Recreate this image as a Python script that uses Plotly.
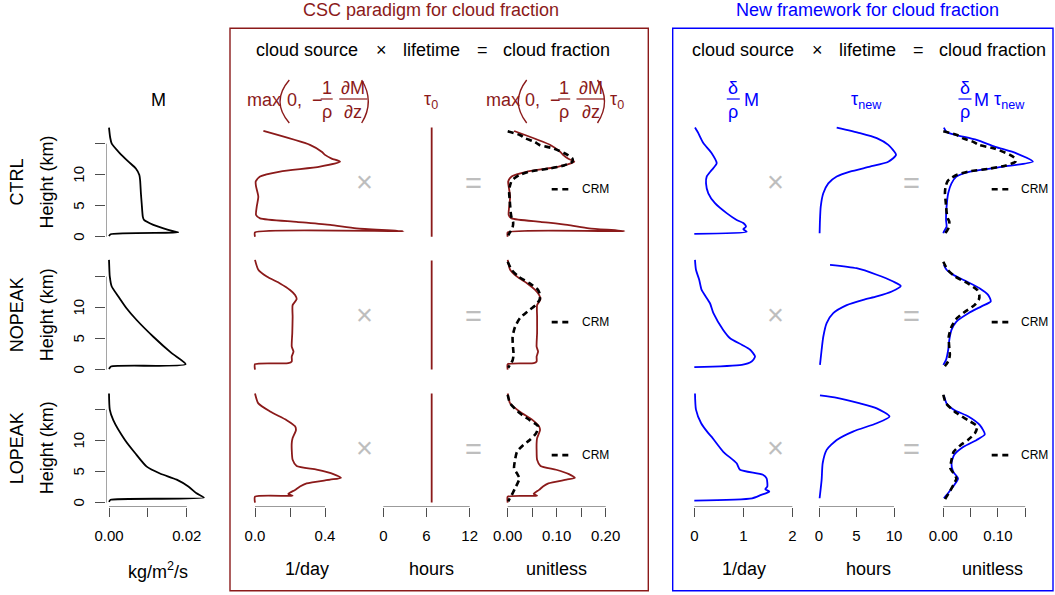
import plotly.graph_objects as go

# ---------------- DATA ----------------
rows = ["CTRL", "NOPEAK", "LOPEAK"]

# Column 1: mass flux M (kg/m2/s)
z_M_ctrl = [17.6, 16.0, 15.0, 13.45, 12.1, 11.0, 9.95, 9.1, 7.0, 5.4, 3.2, 2.7, 1.9, 1.35, 0.9, 0.7, 0.4, 0.1]
M_ctrl = [0.0, 0.0003, 0.0007, 0.0028, 0.005, 0.0069, 0.0078, 0.008, 0.0082, 0.0084, 0.0087, 0.009, 0.0114, 0.014, 0.0165, 0.0178, 0.0004, 0.0]
z_M_nopeak = [17.7, 16.0, 15.0, 13.4, 11.8, 9.9, 8.0, 5.3, 2.65, 0.87, 0.5, 0.1]
M_nopeak = [0.0, 0.0001, 0.0002, 0.0007, 0.0024, 0.0045, 0.0071, 0.0114, 0.0161, 0.0197, 0.0005, 0.0]
z_M_lopeak = [17.6, 15.0, 13.3, 10.1, 8.0, 5.8, 4.7, 3.7, 2.6, 1.5, 0.8, 0.45, 0.1]
M_lopeak = [0.0, 0.0002, 0.0011, 0.0041, 0.0067, 0.0097, 0.0131, 0.0174, 0.0204, 0.0225, 0.0244, 0.0004, 0.0]

# CSC paradigm: cloud source (1/day) and cloud fraction (unitless)
z_csc_ctrl = [17.05, 14.8, 13.7, 13.2, 12.6, 12.1, 11.3, 10.5, 9.7, 8.9, 8.1, 6.45, 4.85, 3.5, 2.95, 2.4, 1.9, 1.35, 0.9, 0.7, 0.0]
src_csc_ctrl = [0.048, 0.314, 0.381, 0.4, 0.438, 0.486, 0.371, 0.143, 0.029, 0.004, 0.006, 0.019, 0.01, 0.006, 0.029, 0.238, 0.43, 0.58, 0.848, 0.0, 0.0]
cf_csc_ctrl = [0.013, 0.087, 0.107, 0.113, 0.123, 0.136, 0.104, 0.040, 0.008, 0.001, 0.002, 0.005, 0.003, 0.002, 0.008, 0.067, 0.122, 0.166, 0.238, 0.0, 0.0]
z_csc_nopeak = [17.7, 16.1, 15.0, 13.9, 12.85, 12.05, 11.35, 10.4, 8.5, 5.9, 3.7, 2.9, 2.1, 1.3, 1.03, 0.87, 0.0]
src_csc_nopeak = [0.0, 0.019, 0.067, 0.143, 0.2, 0.229, 0.238, 0.215, 0.215, 0.213, 0.21, 0.22, 0.21, 0.21, 0.19, 0.0, 0.0]
cf_csc_nopeak = [0.0, 0.005, 0.019, 0.040, 0.056, 0.064, 0.067, 0.060, 0.060, 0.060, 0.059, 0.062, 0.059, 0.059, 0.053, 0.0, 0.0]
z_csc_lopeak = [17.6, 16.0, 14.7, 13.3, 12.3, 11.7, 10.4, 9.6, 8.5, 6.9, 5.9, 5.3, 4.6, 4.0, 3.7, 3.1, 2.6, 2.05, 1.4, 1.1, 0.95, 0.0]
src_csc_lopeak = [0.0, 0.019, 0.086, 0.181, 0.229, 0.234, 0.215, 0.21, 0.21, 0.215, 0.238, 0.352, 0.448, 0.491, 0.429, 0.295, 0.257, 0.229, 0.19, 0.215, 0.0, 0.0]
cf_csc_lopeak = [0.0, 0.005, 0.024, 0.051, 0.064, 0.066, 0.060, 0.059, 0.059, 0.060, 0.067, 0.099, 0.125, 0.137, 0.120, 0.083, 0.072, 0.064, 0.053, 0.060, 0.0, 0.0]

tau0_hours = 6.72
z_tau0 = [0.0, 17.6]

# New framework: cloud source (1/day), lifetime (hours), cloud fraction
z_new_src_ctrl = [17.6, 16.7, 15.1, 13.45, 11.85, 10.75, 9.7, 8.6, 7.0, 5.4, 3.8, 2.7, 2.2, 1.6, 1.2, 0.8, 0.45]
src_new_ctrl = [0.014, 0.082, 0.184, 0.355, 0.457, 0.355, 0.253, 0.239, 0.286, 0.422, 0.66, 0.865, 1.0, 1.055, 1.0, 1.07, 0.0]
z_new_src_nopeak = [17.7, 16.1, 14.5, 12.85, 10.7, 9.1, 6.4, 5.06, 4.0, 3.2, 2.1, 1.3, 0.76, 0.4]
src_new_nopeak = [0.014, 0.034, 0.1, 0.15, 0.32, 0.39, 0.59, 0.73, 0.97, 1.14, 1.24, 1.17, 0.97, 0.0]
z_new_src_lopeak = [17.6, 15.0, 12.8, 11.2, 10.4, 8.2, 6.35, 5.3, 4.5, 3.9, 2.58, 2.16, 1.78, 1.2, 0.7, 0.33]
src_new_lopeak = [0.014, 0.034, 0.14, 0.286, 0.374, 0.592, 0.864, 0.932, 1.4, 1.476, 1.49, 1.45, 1.53, 1.35, 1.18, 0.0]

z_tau_ctrl = [17.6, 16.7, 15.9, 14.8, 13.2, 12.1, 11.3, 10.5, 9.7, 8.6, 7.0, 4.85, 2.7, 0.55]
tau_new_ctrl = [2.36, 5.47, 7.7, 9.24, 10.27, 9.24, 6.8, 4.13, 2.36, 1.24, 0.57, 0.23, 0.13, 0.08]
z_tau_nopeak = [16.9, 16.35, 15.3, 14.2, 13.5, 12.6, 11.8, 11.25, 10.4, 9.1, 7.5, 5.3, 3.2, 0.76]
tau_new_nopeak = [1.47, 5.0, 7.7, 9.9, 10.9, 9.7, 7.7, 5.9, 3.7, 1.9, 1.02, 0.57, 0.35, 0.13]
z_tau_lopeak = [17.3, 16.9, 16.0, 15.2, 13.9, 12.8, 11.5, 10.1, 8.5, 6.35, 3.66, 0.7]
tau_new_lopeak = [0.13, 2.4, 5.47, 7.7, 9.4, 7.7, 4.6, 2.36, 1.02, 0.49, 0.35, 0.08]

z_cf_new_ctrl = [17.6, 16.9, 16.4, 15.6, 14.5, 13.45, 12.1, 11.3, 10.5, 9.7, 8.6, 7.0, 4.85, 2.7, 1.6, 0.8, 0.55]
cf_new_ctrl = [0.001, 0.006, 0.024, 0.061, 0.095, 0.134, 0.164, 0.11, 0.049, 0.024, 0.015, 0.009, 0.006, 0.005, 0.006, 0.001, 0.0]
z_cf_new_nopeak = [16.9, 16.1, 15.3, 14.2, 13.1, 12.05, 11.0, 10.2, 9.1, 7.75, 6.4, 4.8, 3.2, 1.56, 0.76]
cf_new_nopeak = [0.001, 0.006, 0.018, 0.043, 0.067, 0.082, 0.087, 0.07, 0.046, 0.024, 0.015, 0.011, 0.009, 0.005, 0.0]
z_cf_new_lopeak = [17.3, 16.0, 14.95, 13.9, 12.5, 11.0, 10.1, 9.0, 7.7, 6.35, 5.0, 3.9, 2.85, 1.8, 0.7]
cf_new_lopeak = [0.001, 0.006, 0.02, 0.046, 0.067, 0.076, 0.061, 0.037, 0.02, 0.015, 0.018, 0.027, 0.02, 0.011, 0.001]

# CRM cloud fraction (reference)
z_crm_ctrl = [17.0, 16.4, 15.9, 15.3, 14.8, 14.2, 13.2, 12.6, 12.1, 11.5, 11.0, 10.5, 10.0, 9.5, 9.0, 8.0, 7.0, 6.0, 5.0, 4.0, 3.0, 2.4, 1.5, 1.0, 0.5, 0.2]
crm_ctrl = [0.0, 0.025, 0.035, 0.055, 0.065, 0.095, 0.122, 0.132, 0.132, 0.115, 0.086, 0.045, 0.025, 0.015, 0.008, 0.004, 0.003, 0.004, 0.005, 0.006, 0.008, 0.011, 0.01, 0.007, 0.003, 0.001]
z_crm_nopeak = [17.4, 16.1, 15.0, 13.9, 12.85, 12.0, 11.25, 10.4, 9.35, 8.3, 6.9, 5.3, 3.45, 2.4, 1.5, 0.8, 0.3]
crm_nopeak = [0.0, 0.008, 0.022, 0.045, 0.062, 0.066, 0.065, 0.057, 0.04, 0.025, 0.015, 0.01, 0.011, 0.012, 0.01, 0.005, 0.001]
z_crm_lopeak = [17.4, 16.0, 14.4, 13.3, 12.3, 11.2, 10.1, 9.3, 8.2, 6.9, 5.5, 4.7, 3.9, 3.1, 2.3, 1.5, 0.8, 0.2]
crm_lopeak = [0.0, 0.005, 0.025, 0.045, 0.062, 0.058, 0.045, 0.032, 0.019, 0.015, 0.013, 0.019, 0.024, 0.02, 0.015, 0.01, 0.005, 0.001]

# axis ticks
tick_M = [0, 0.01, 0.02]; ticklab_M = ["0.00", "", "0.02"]
tick_src_csc = [0, 0.2, 0.4]; ticklab_src_csc = ["0.0", "", "0.4"]
tick_tau0 = [0, 6, 12]; ticklab_tau0 = ["0", "6", "12"]
tick_cf_csc = [0, 0.05, 0.10, 0.15, 0.20]; ticklab_cf_csc = ["0.00", "", "0.10", "", "0.20"]
tick_src_new = [0, 1, 2]; ticklab_src_new = ["0", "1", "2"]
tick_tau_new = [0, 5, 10]; ticklab_tau_new = ["0", "5", "10"]
tick_cf_new = [0, 0.05, 0.10, 0.15]; ticklab_cf_new = ["0.00", "", "0.10", ""]
tick_height = [0, 5, 10, 15]; ticklab_height = ["0", "5", "10", ""]

# ---------------- LAYOUT GEOMETRY ----------------
W, H = 1055, 595
FONT = "Liberation Sans, Arial, Helvetica, sans-serif"
RED = "#8B1A1A"
BLUE = "#0000FF"
GRAY = "#BEBEBE"
AXC = "#4d4d4d"


def fx(p):
    return p / W


def fy(p):
    return 1 - p / H


Z0_PX = [236.7, 369.6, 502.6]
KM_PX = 6.2
Y_RANGE = [-0.7, 18.2]
# (pixel of x=0, pixels per unit, left pixel, right pixel)
COLS = [(109, 3890, 106, 215), (255, 175, 250, 420), (383.3, 7.2, 378, 480),
        (507.7, 490, 503, 640), (694.3, 49, 690, 800), (819, 7.5, 814, 910),
        (943.3, 546, 938, 1050)]
TICKS = [(tick_M, ticklab_M), (tick_src_csc, ticklab_src_csc), (tick_tau0, ticklab_tau0),
         (tick_cf_csc, ticklab_cf_csc), (tick_src_new, ticklab_src_new),
         (tick_tau_new, ticklab_tau_new), (tick_cf_new, ticklab_cf_new)]

series = {
    0: [(z_M_ctrl, M_ctrl), (z_M_nopeak, M_nopeak), (z_M_lopeak, M_lopeak)],
    1: [(z_csc_ctrl, src_csc_ctrl), (z_csc_nopeak, src_csc_nopeak), (z_csc_lopeak, src_csc_lopeak)],
    2: [(z_tau0, [tau0_hours, tau0_hours])] * 3,
    3: [(z_csc_ctrl, cf_csc_ctrl), (z_csc_nopeak, cf_csc_nopeak), (z_csc_lopeak, cf_csc_lopeak)],
    4: [(z_new_src_ctrl, src_new_ctrl), (z_new_src_nopeak, src_new_nopeak), (z_new_src_lopeak, src_new_lopeak)],
    5: [(z_tau_ctrl, tau_new_ctrl), (z_tau_nopeak, tau_new_nopeak), (z_tau_lopeak, tau_new_lopeak)],
    6: [(z_cf_new_ctrl, cf_new_ctrl), (z_cf_new_nopeak, cf_new_nopeak), (z_cf_new_lopeak, cf_new_lopeak)],
}
crm = [(z_crm_ctrl, crm_ctrl), (z_crm_nopeak, crm_nopeak), (z_crm_lopeak, crm_lopeak)]
col_color = ["black", RED, RED, RED, BLUE, BLUE, BLUE]

fig = go.Figure()
layout = {}
shapes = []
annotations = []


def txt(x, y, text, size=18, color="black", xanchor="center", yanchor="middle", angle=0):
    return dict(x=fx(x), y=fy(y), xref="paper", yref="paper", text=text, showarrow=False,
                font=dict(size=size, color=color, family=FONT), xanchor=xanchor,
                yanchor=yanchor, textangle=angle)


for r in range(3):
    ybot = Z0_PX[r] - Y_RANGE[0] * KM_PX
    ytop = Z0_PX[r] - Y_RANGE[1] * KM_PX
    for c in range(7):
        idx = r * 7 + c + 1
        sfx = "" if idx == 1 else str(idx)
        x0, s, L, R = COLS[c]
        xa = dict(domain=[fx(L), fx(R)], range=[(L - x0) / s, (R - x0) / s],
                  anchor="y" + sfx, showgrid=False, zeroline=False, showline=False,
                  fixedrange=True, automargin=False)
        ya = dict(domain=[fy(ybot), fy(ytop)], range=Y_RANGE, anchor="x" + sfx,
                  showgrid=False, zeroline=False, showline=False, fixedrange=True,
                  automargin=False)
        if r == 2:
            tv, tt = TICKS[c]
            xa.update(tickmode="array", tickvals=tv, ticktext=tt, ticks="outside",
                      ticklen=9, tickwidth=1, tickcolor=AXC, showticklabels=True,
                      tickfont=dict(size=15, color="black", family=FONT),
                      ticklabelstandoff=6)
            shapes.append(dict(type="line", xref="x" + sfx, yref="y" + sfx,
                               x0=tv[0], x1=tv[-1], y0=Y_RANGE[0], y1=Y_RANGE[0],
                               line=dict(color=AXC, width=1)))
        else:
            xa.update(showticklabels=False, ticks="")
        if c == 0:
            ya.update(tickmode="array", tickvals=tick_height, ticks="outside",
                      ticklen=10, tickwidth=1, tickcolor=AXC, showticklabels=False)
            shapes.append(dict(type="line", xref="x" + sfx, yref="y" + sfx,
                               x0=(L - x0) / s, x1=(L - x0) / s,
                               y0=tick_height[0], y1=tick_height[-1],
                               line=dict(color=AXC, width=1)))
            # rotated tick labels (R style), placed at the tick heights
            for tv_h, tl_h in zip(tick_height, ticklab_height):
                if tl_h:
                    annotations.append(dict(x=fx(79), y=tv_h, xref="paper", yref="y" + sfx,
                                            text=tl_h, showarrow=False, textangle=-90,
                                            font=dict(size=15, color="black", family=FONT),
                                            xanchor="center", yanchor="middle"))
        else:
            ya.update(showticklabels=False, ticks="")
        layout["xaxis" + sfx] = xa
        layout["yaxis" + sfx] = ya

        zz, vv = series[c][r]
        smooth = c != 2
        fig.add_trace(go.Scatter(x=vv, y=zz, mode="lines", xaxis="x" + sfx, yaxis="y" + sfx,
                                 line=dict(color=col_color[c], width=1.8,
                                           shape="spline" if smooth else "linear",
                                           smoothing=0.6 if smooth else None),
                                 showlegend=False, hoverinfo="skip"))
        if c in (3, 6):
            zc, vc = crm[r]
            fig.add_trace(go.Scatter(x=vc, y=zc, mode="lines", xaxis="x" + sfx, yaxis="y" + sfx,
                                     line=dict(color="black", width=2.6, dash="6px,4px",
                                               shape="spline", smoothing=0.6),
                                     showlegend=False, hoverinfo="skip"))


def pline(x0, y0, x1, y1, color, width=1.2, dash=None):
    ln = dict(color=color, width=width)
    if dash:
        ln["dash"] = dash
    return dict(type="line", xref="paper", yref="paper", x0=fx(x0), y0=fy(y0),
                x1=fx(x1), y1=fy(y1), line=ln)


def paren(xe, xb, ytop, ybot, color):
    cx = 2 * xb - xe
    ym = (ytop + ybot) / 2
    path = "M %.5f,%.5f Q %.5f,%.5f %.5f,%.5f" % (fx(xe), fy(ytop), fx(cx), fy(ym), fx(xe), fy(ybot))
    return dict(type="path", xref="paper", yref="paper", path=path,
                line=dict(color=color, width=1.4))


# boxes
shapes.append(dict(type="rect", xref="paper", yref="paper", x0=fx(230), x1=fx(648.3),
                   y0=fy(590.7), y1=fy(28.3), line=dict(color=RED, width=1.4)))
shapes.append(dict(type="rect", xref="paper", yref="paper", x0=fx(672.7), x1=fx(1053),
                   y0=fy(590.7), y1=fy(28.3), line=dict(color=BLUE, width=1.4)))

annotations.append(txt(431, 10, "CSC paradigm for cloud fraction", color=RED))
annotations.append(txt(867, 10, "New framework for cloud fraction", color=BLUE))

for dx in (0, 436):
    annotations.append(txt(307 + dx, 50, "cloud source"))
    annotations.append(txt(381.7 + dx, 50, "×"))
    annotations.append(txt(431.7 + dx, 50, "lifetime"))
    annotations.append(txt(482.3 + dx, 50, "="))
    annotations.append(txt(556.3 + dx, 50, "cloud fraction"))

BASE_Y = 100
NUM_Y = 88
DEN_Y = 112
BAR_Y = 99
# CSC formulas
for (mx, lp_e, lp_b, zc, f1, f2, rp_e, rp_b) in [
        (264, 289.3, 280, 305, 326.7, 353.3, 361.7, 368.3),
        (502.5, 526.7, 518.3, 543, 564.2, 590.5, 597.5, 604.5)]:
    annotations.append(txt(mx, BASE_Y, "max", color=RED))
    shapes.append(paren(lp_e, lp_b, 80, 123, RED))
    annotations.append(txt(zc, BASE_Y, "0,  −", color=RED))
    annotations.append(txt(f1, NUM_Y, "1", color=RED))
    annotations.append(txt(f1, DEN_Y, "ρ", color=RED))
    shapes.append(pline(f1 - 6, BAR_Y, f1 + 6, BAR_Y, RED))
    annotations.append(txt(f2, NUM_Y, "∂M", color=RED))
    annotations.append(txt(f2, DEN_Y, "∂z", color=RED))
    shapes.append(pline(f2 - 14, BAR_Y, f2 + 14, BAR_Y, RED))
    shapes.append(paren(rp_e, rp_b, 80, 123, RED))
annotations.append(txt(431, BASE_Y, "τ<sub>0</sub>", color=RED))
annotations.append(txt(617, BASE_Y, "τ<sub>0</sub>", color=RED))

# New framework formulas
for (dx, mx) in [(733.3, 751), (965, 981.7)]:
    annotations.append(txt(dx, NUM_Y, "δ", color=BLUE))
    annotations.append(txt(dx, DEN_Y, "ρ", color=BLUE))
    shapes.append(pline(dx - 6.5, BAR_Y, dx + 6.5, BAR_Y, BLUE))
    annotations.append(txt(mx, BASE_Y, "M", color=BLUE))
annotations.append(txt(866.7, BASE_Y, "τ<sub>new</sub>", color=BLUE))
annotations.append(txt(1009, BASE_Y, "τ<sub>new</sub>", color=BLUE))
annotations.append(txt(158, BASE_Y, "M"))

# bottom axis titles
annotations.append(txt(158, 570, "kg/m<sup>2</sup>/s"))
for (x, t) in [(307, "1/day"), (431.7, "hours"), (556.3, "unitless"),
               (744, "1/day"), (868.3, "hours"), (992.5, "unitless")]:
    annotations.append(txt(x, 569, t))

# row labels, operators, CRM legends
for r in range(3):
    yc = Z0_PX[r] - (Y_RANGE[1] + Y_RANGE[0]) / 2 * KM_PX
    annotations.append(txt(17, yc, rows[r], angle=-90))
    annotations.append(txt(47, yc, "Height (km)", angle=-90))
    for xm in (364.7, 775.3):
        annotations.append(txt(xm, yc, "×", size=29, color=GRAY))
    for xe in (473.2, 911.7):
        annotations.append(txt(xe, yc + 1, "=", size=29, color=GRAY))
    ly = yc + 6.8
    for (lx0, tx) in [(551.7, 580), (991.7, 1019.3)]:
        shapes.append(pline(lx0, ly, lx0 + 16.6, ly, "black", width=2.6, dash="6px,4.6px"))
        annotations.append(txt(tx, ly, "CRM", size=12, xanchor="left"))

fig.update_layout(width=W, height=H, margin=dict(l=0, r=0, t=0, b=0, autoexpand=False),
                  paper_bgcolor="white", plot_bgcolor="rgba(0,0,0,0)",
                  showlegend=False, shapes=shapes, annotations=annotations,
                  font=dict(family=FONT), **layout)

fig.write_html("out.html", config={"displayModeBar": False},
               post_script="document.body.style.margin='0';document.body.style.overflow='hidden';")
